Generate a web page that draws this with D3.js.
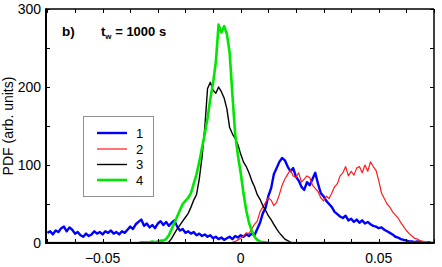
<!DOCTYPE html>
<html><head><meta charset="utf-8">
<script src="https://cdn.jsdelivr.net/npm/d3@7"></script>
<style>html,body{margin:0;padding:0;background:#fff}svg{display:block}</style>
</head><body>
<svg id="chart" width="442" height="267"></svg>
<script>
// Bin centres: -0.070 .. 0.070, step 0.001
const binStart = -0.070, binStep = 0.001, binCount = 141;
const bins = d3.range(binCount).map(i => +(binStart + i * binStep).toFixed(3));

const series1 = [
 13,15,11,16,14,19,21,15,20,17,
 12,14,10,8,12,9,11,15,12,14,
 11,15,13,16,12,14,11,15,13,17,
 21,18,24,27,30,22,25,20,23,19,
 25,28,23,27,22,26,29,21,16,18,
 13,15,12,14,10,12,9,11,8,10,
 6,8,5,7,4,6,8,5,9,7,
 10,8,11,9,12,10,18,26,38,45,
 60,70,88,96,104,109,106,98,92,96,
 85,80,72,68,78,74,82,90,76,64,
 60,54,50,46,40,37,34,32,35,29,
 31,27,30,26,29,25,27,24,22,21,
 19,20,17,15,13,11,8,7,5,4,
 3,2,2,1,2,1,1,0,1,0,
 0];
const series2 = [
 0,0,0,0,0,0,0,0,0,0,
 0,0,0,0,0,0,0,0,0,0,
 0,0,0,0,0,0,0,0,0,0,
 0,0,0,0,0,0,0,0,0,0,
 0,0,0,0,0,0,0,0,0,0,
 0,0,0,0,0,0,0,0,0,0,
 0,0,0,0,0,0,0,1,2,4,
 6,9,13,12,18,24,28,40,46,52,
 58,55,48,52,62,74,82,88,94,86,
 84,90,78,82,86,84,74,70,66,58,
 54,60,57,64,72,76,86,90,98,86,
 92,87,96,98,90,100,92,104,98,93,
 80,64,57,50,46,40,36,32,26,21,
 16,12,9,6,5,3,2,1,1,0,
 0];
const series3 = [
 0,0,0,0,0,0,0,0,0,0,
 0,0,0,0,0,0,0,0,0,0,
 0,0,0,0,0,0,0,0,0,0,
 0,0,0,0,0,0,0,0,0,0,
 0,0,0,0,1,6,12,18,23,28,
 33,38,46,55,62,82,110,148,198,206,
 196,192,200,194,186,172,148,140,134,126,
 114,104,98,90,80,72,62,56,48,42,
 35,30,24,18,13,9,5,3,1,0,
 0,0,0,0,0,0,0,0,0,0,
 0,0,0,0,0,0,0,0,0,0,
 0,0,0,0,0,0,0,0,0,0,
 0,0,0,0,0,0,0,0,0,0,
 0,0,0,0,0,0,0,0,0,0,
 0];
const series4 = [
 0,0,0,0,0,0,0,0,0,0,
 0,0,0,0,0,0,0,0,0,0,
 0,0,0,0,0,0,0,0,0,0,
 0,0,0,0,1,1,1,1,2,1,
 2,3,3,5,10,18,26,34,42,50,
 54,58,64,76,88,104,122,140,160,185,
 205,232,280,270,278,268,244,190,140,112,
 90,64,42,26,16,8,4,2,1,1,
 0,0,0,0,0,0,0,0,0,0,
 0,0,0,0,0,0,0,0,0,0,
 0,0,0,0,0,0,0,0,0,0,
 0,0,0,0,0,0,0,0,0,0,
 0,0,0,0,0,0,0,0,0,0,
 0,0,0,0,0,0,0,0,0,0,
 0];

const seriesNames = ["1", "2", "3", "4"];
const seriesColors = ["#0000ff", "#ff1a1a", "#000000", "#00e600"];
const seriesWidths = [2.4, 1.2, 1.4, 2.6];
const seriesValues = [series1, series2, series3, series4];

const xTickLabels = [-0.05, 0, 0.05];
const xTicksAll = d3.range(-7, 8).map(d => d / 100);
const yTickLabels = [0, 100, 200, 300];
const yTicksAll = [0, 50, 100, 150, 200, 250, 300];

const svg = d3.select("#chart");
const L = 46, R = 434, T = 9, B = 243;
const x = d3.scaleLinear().domain([-0.0705, 0.0700]).range([L, R]);
const y = d3.scaleLinear().domain([0, 300]).range([B, T]);

svg.append("defs").append("clipPath").attr("id", "clip")
  .append("rect").attr("x", L).attr("y", T).attr("width", R - L).attr("height", B - T);

const font = "'Liberation Sans', Arial, sans-serif";

// curves
const line = d3.line().x(d => x(d[0])).y(d => y(d[1]));
const g = svg.append("g").attr("clip-path", "url(#clip)");
seriesValues.forEach((vals, k) => {
  const pts = bins.map((b, i) => [b, vals[i]]).filter(p => p[1] !== undefined);
  g.append("path").attr("d", line(pts)).attr("fill", "none")
    .attr("stroke", seriesColors[k]).attr("stroke-width", seriesWidths[k])
    .attr("stroke-linejoin", "round");
});

// ticks (inward on all four sides)
const tl = 4;
const tk = svg.append("g").attr("stroke", "#000").attr("stroke-width", 1);
xTicksAll.forEach(v => {
  const px = Math.round(x(v)) + 0.5;
  tk.append("line").attr("x1", px).attr("x2", px).attr("y1", B).attr("y2", B - tl);
  tk.append("line").attr("x1", px).attr("x2", px).attr("y1", T).attr("y2", T + tl);
});
yTicksAll.forEach(v => {
  const py = Math.round(y(v)) + 0.5;
  tk.append("line").attr("x1", L).attr("x2", L + tl).attr("y1", py).attr("y2", py);
  tk.append("line").attr("x1", R).attr("x2", R - tl).attr("y1", py).attr("y2", py);
});

// frame
svg.append("line").attr("x1", L).attr("x2", R).attr("y1", T).attr("y2", T).attr("stroke", "#000").attr("stroke-width", 1.5);
svg.append("line").attr("x1", R).attr("x2", R).attr("y1", T).attr("y2", B).attr("stroke", "#000").attr("stroke-width", 1.5);
svg.append("line").attr("x1", L).attr("x2", L).attr("y1", T - 0.75).attr("y2", B + 1).attr("stroke", "#000").attr("stroke-width", 2);
svg.append("line").attr("x1", L - 1).attr("x2", R + 0.75).attr("y1", B).attr("y2", B).attr("stroke", "#000").attr("stroke-width", 2);

// tick labels
yTickLabels.forEach(v => {
  svg.append("text").attr("x", 41).attr("y", y(v) + 5).attr("text-anchor", "end")
    .attr("font-family", font).attr("font-size", 14).text(v);
});
xTickLabels.forEach(v => {
  svg.append("text").attr("x", x(v)).attr("y", 263).attr("text-anchor", "middle")
    .attr("font-family", font).attr("font-size", 14).text(v === 0 ? "0" : d3.format("")(v));
});

// axis title
svg.append("text").attr("transform", "translate(13,126) rotate(-90)")
  .attr("text-anchor", "middle").attr("font-family", font).attr("font-size", 14)
  .text("PDF (arb. units)");

// annotations
svg.append("text").attr("x", 62).attr("y", 36).attr("font-family", font)
  .attr("font-size", 13.5).attr("font-weight", "bold").text("b)");
const tw = svg.append("text").attr("x", 101).attr("y", 36).attr("font-family", font)
  .attr("font-size", 13).attr("font-weight", "bold");
tw.append("tspan").text("t");
tw.append("tspan").attr("dy", 3).attr("font-size", 8).text("w");
tw.append("tspan").attr("dy", -3).text(" = 1000 s");

// legend
const lg = svg.append("g");
lg.append("rect").attr("x", 83.5).attr("y", 116.5).attr("width", 70).attr("height", 80)
  .attr("fill", "#fff").attr("stroke", "#909090").attr("stroke-width", 1);
const rowY = [133, 149, 164.5, 180];
seriesNames.forEach((n, k) => {
  lg.append("line").attr("x1", 97).attr("x2", 127).attr("y1", rowY[k]).attr("y2", rowY[k])
    .attr("stroke", seriesColors[k]).attr("stroke-width", seriesWidths[k]);
  lg.append("text").attr("x", 136).attr("y", rowY[k] + 4.5).attr("font-family", font)
    .attr("font-size", 13).text(n);
});
</script>
</body></html>
